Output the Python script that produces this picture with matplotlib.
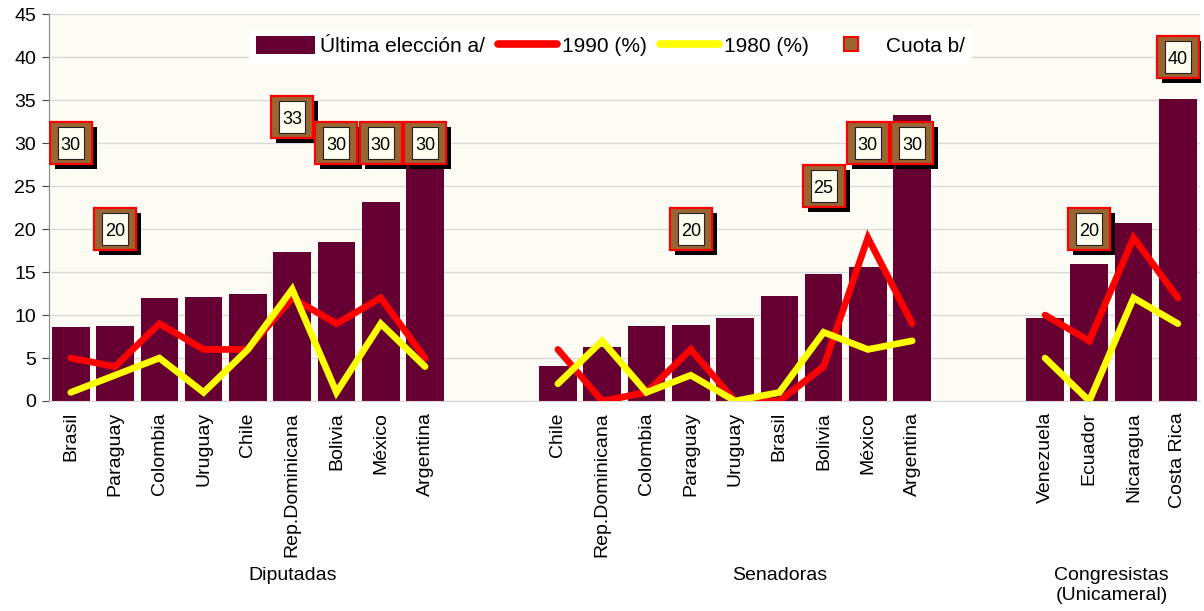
import numpy as np
import matplotlib
matplotlib.use("Agg")
import matplotlib.pyplot as plt
from matplotlib import transforms
from matplotlib.patches import Patch
from matplotlib.lines import Line2D

plt.rcParams['font.family'] = ['Liberation Sans', 'DejaVu Sans']

# ---- data ----
dip_countries = ["Brasil", "Paraguay", "Colombia", "Uruguay", "Chile",
                 "Rep.Dominicana", "Bolivia", "México", "Argentina"]
dip_ultima = [8.6, 8.7, 12.0, 12.1, 12.5, 17.3, 18.5, 23.2, 30.0]
dip_1990 = [5, 4, 9, 6, 6, 12, 9, 12, 5]
dip_1980 = [1, 3, 5, 1, 6, 13, 1, 9, 4]
dip_cuota = [30, 20, None, None, None, 33, 30, 30, 30]

sen_countries = ["Chile", "Rep.Dominicana", "Colombia", "Paraguay", "Uruguay",
                 "Brasil", "Bolivia", "México", "Argentina"]
sen_ultima = [4.1, 6.3, 8.7, 8.8, 9.7, 12.2, 14.8, 15.6, 33.3]
sen_1990 = [6, 0, 1, 6, 0, 0, 4, 19, 9]
sen_1980 = [2, 7, 1, 3, 0, 1, 8, 6, 7]
sen_cuota = [None, None, None, 20, None, None, 25, 30, 30]

uni_countries = ["Venezuela", "Ecuador", "Nicaragua", "Costa Rica"]
uni_ultima = [9.7, 16.0, 20.7, 35.1]
uni_1990 = [10, 7, 19, 12]
uni_1980 = [5, 0, 12, 9]
uni_cuota = [None, 20, None, 40]

group_names = ["Diputadas", "Senadoras", "Congresistas\n(Unicameral)"]
legend_labels = ["Última elección a/", "1990 (%)", "1980 (%)", "Cuota b/"]

# ---- build combined series with blank slots between groups ----
groups = [
    (dip_countries, dip_ultima, dip_1990, dip_1980, dip_cuota),
    (sen_countries, sen_ultima, sen_1990, sen_1980, sen_cuota),
    (uni_countries, uni_ultima, uni_1990, uni_1980, uni_cuota),
]
n_blank = 2

labels, bars, l90, l80, cuota = [], [], [], [], []
group_spans = []
for gi, (c, u, a, b, q) in enumerate(groups):
    start = len(labels)
    labels += c
    bars += u
    l90 += a
    l80 += b
    cuota += [np.nan if v is None else v for v in q]
    if gi < len(groups) - 1:
        labels += [""] * n_blank
        bars += [np.nan] * n_blank
        l90 += [np.nan] * n_blank
        l80 += [np.nan] * n_blank
        cuota += [np.nan] * n_blank
    end = len(labels) - 1
    group_spans.append((start, end))

x = np.arange(len(labels))
bars = np.array(bars, float)
l90 = np.array(l90, float)
l80 = np.array(l80, float)
cuota = np.array(cuota, float)

# ---- figure ----
fig = plt.figure(figsize=(12.04, 6.11), dpi=100)
ax = fig.add_axes([0.0404, 0.3437, 0.9563, 0.6329])
ax.set_facecolor('#FCFCF4')

ax.bar(x, bars, width=0.85, color='#660033', zorder=2)
ax.plot(x, l90, color='#FF0000', lw=4.8, solid_capstyle='round',
        solid_joinstyle='miter', zorder=3)
ax.plot(x, l80, color='#FFFF00', lw=4.8, solid_capstyle='round',
        solid_joinstyle='miter', zorder=4)

# quota markers with shadow
shadow = transforms.offset_copy(ax.transData, fig=fig, x=5, y=-5, units='dots')
ax.plot(x, cuota, ls='none', marker='s', markersize=30.5, color='black',
        markeredgewidth=0, transform=shadow, zorder=5)
ax.plot(x, cuota, ls='none', marker='s', markersize=30.5,
        markerfacecolor='#996633', markeredgecolor='#FF0000',
        markeredgewidth=1.6, zorder=6)
box_verts = [(-0.41, -0.5), (0.41, -0.5), (0.41, 0.5), (-0.41, 0.5), (-0.41, -0.5)]
ax.plot(x, cuota, ls='none', marker=box_verts, markersize=23.5,
        markerfacecolor='#FFFFF0', markeredgecolor='#222222',
        markeredgewidth=0.8, zorder=7)
for xi, v in zip(x, cuota):
    if not np.isnan(v):
        ax.text(xi, v, f"{v:.0f}", ha='center', va='center_baseline',
                fontsize=13, zorder=8, color='black')

ax.set_xlim(-0.5, len(labels) - 0.5)
ax.set_ylim(0, 45)
ax.set_yticks(np.arange(0, 46, 5))
ax.yaxis.grid(True, color='#D9D9D9', lw=1, zorder=0)
ax.set_axisbelow(True)
ax.set_xticks(x)
ax.set_xticklabels(labels, rotation=90, fontsize=14)
ax.tick_params(axis='x', length=0, pad=8)
ax.tick_params(axis='y', labelsize=14, length=5, color='#444444', pad=4)
for s in ['top', 'right']:
    ax.spines[s].set_visible(False)
ax.spines['left'].set_color('#888888')
ax.spines['bottom'].set_color('#D9D9D9')

# group labels
blend = transforms.blended_transform_factory(ax.transData, fig.transFigure)
for name, (s, e) in zip(group_names, group_spans):
    ax.text((s + e) / 2, 1 - 567 / 611, name, transform=blend, ha='center',
            va='top', fontsize=14, linespacing=1.22)

# legend
handles = [
    Patch(facecolor='#660033', edgecolor='none'),
    Line2D([], [], color='#FF0000', lw=5.5, solid_capstyle='round'),
    Line2D([], [], color='#FFFF00', lw=5.5, solid_capstyle='round'),
    Line2D([], [], ls='none', marker='s', markersize=9.5,
           markerfacecolor='#996633', markeredgecolor='#FF0000', markeredgewidth=1.5),
]
leg = ax.legend(handles, legend_labels, loc='center', bbox_to_anchor=(0.488, 0.917),
                ncol=4, fontsize=15, frameon=True, fancybox=False,
                handlelength=2.85, handletextpad=0.25, columnspacing=0.6,
                borderpad=0.35, handleheight=0.9)
leg.get_frame().set_facecolor('white')
leg.get_frame().set_edgecolor('none')
leg.get_frame().set_alpha(1)
leg.set_zorder(10)

fig.savefig("out.png", dpi=100)
